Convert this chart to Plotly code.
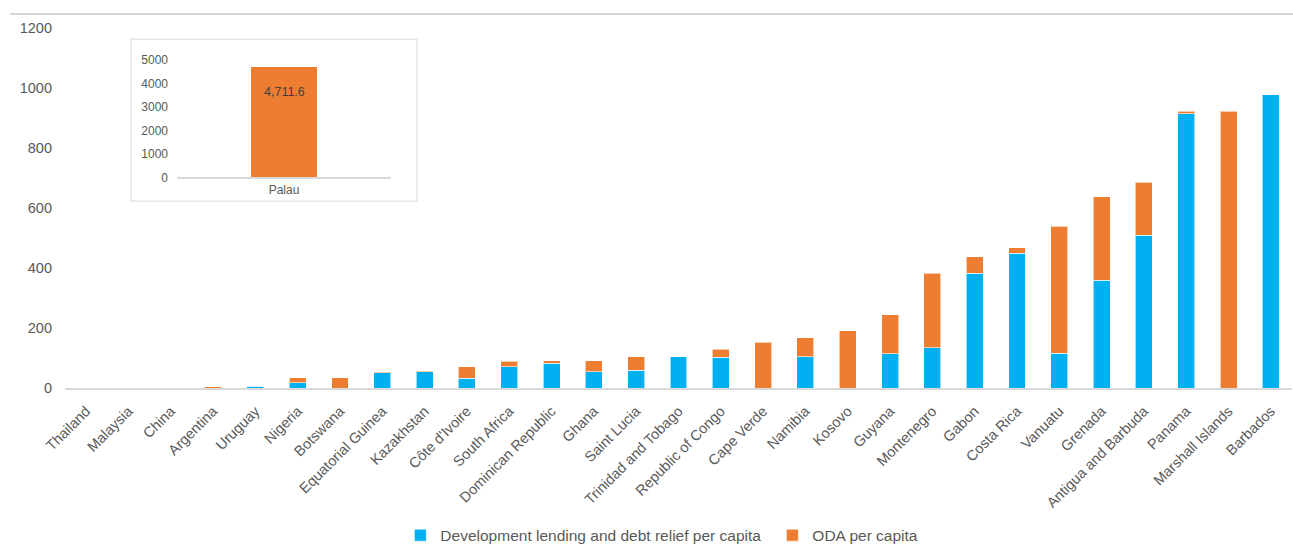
import plotly.graph_objects as go

countries = ["Thailand", "Malaysia", "China", "Argentina", "Uruguay", "Nigeria", "Botswana",
             "Equatorial Guinea", "Kazakhstan", "Côte d'Ivoire", "South Africa", "Dominican Republic",
             "Ghana", "Saint Lucia", "Trinidad and Tobago", "Republic of Congo", "Cape Verde",
             "Namibia", "Kosovo", "Guyana", "Montenegro", "Gabon", "Costa Rica", "Vanuatu",
             "Grenada", "Antigua and Barbuda", "Panama", "Marshall Islands", "Barbados"]
dev_lending = [0, 0, 0, 0, 6, 18, 0, 51, 54, 33, 71, 83, 55, 59, 105, 102, 0, 105, 0,
               115, 134, 382, 449, 116, 360, 510, 915, 0, 977]
oda = [0, 0, 0, 4, 0, 17, 35, 3, 3, 38, 18, 8, 36, 46, 0, 28, 152, 63, 191,
       129, 248, 56, 19, 423, 277, 176, 8, 923, 0]

inset_cat = ["Palau"]
inset_oda = [4711.6]

BLUE = "#00B0F0"
ORANGE = "#ED7D31"
TXT = "#595959"
FONT = "Liberation Sans"

fig = go.Figure()
fig.add_trace(go.Bar(x=countries, y=dev_lending, name="Development lending and debt relief per capita",
                     marker=dict(color=BLUE, line=dict(color="rgba(255,255,255,0.6)", width=1)),
                     width=0.4))
fig.add_trace(go.Bar(x=countries, y=oda, name="ODA per capita",
                     marker=dict(color=ORANGE, line=dict(color="rgba(255,255,255,0.6)", width=1)),
                     width=0.4))
fig.add_trace(go.Bar(x=inset_cat, y=inset_oda, xaxis="x2", yaxis="y2", showlegend=False,
                     marker=dict(color=ORANGE, line=dict(width=0)), width=0.31))

fig.update_layout(
    barmode="stack",
    width=1293, height=547,
    margin=dict(l=65, r=1, t=28, b=159, autoexpand=False),
    paper_bgcolor="white", plot_bgcolor="white",
    font=dict(family=FONT, color=TXT, size=14),
    bargap=0.6,
    xaxis=dict(domain=[0, 1], tickangle=-45, tickfont=dict(size=14.5, color=TXT), automargin=False,
               showline=True, linecolor="#D9D9D9", linewidth=2, ticks="", showgrid=False,
               ticklabelstandoff=7),
    yaxis=dict(range=[0, 1200], tickvals=[0, 200, 400, 600, 800, 1000, 1200], automargin=False,
               showgrid=False, zeroline=False, showline=False, ticks="",
               tickfont=dict(size=14.5, color=TXT), ticklabelstandoff=12),
    xaxis2=dict(domain=[0.0913, 0.2657], anchor="y2", showline=True, linecolor="#D9D9D9",
                linewidth=2, ticks="", tickfont=dict(size=12, color=TXT), showgrid=False,
                automargin=False),
    yaxis2=dict(domain=[0.585, 0.911], anchor="x2", range=[0, 5000], automargin=False,
                tickvals=[0, 1000, 2000, 3000, 4000, 5000], showgrid=False, zeroline=False,
                showline=False, ticks="", tickfont=dict(size=12, color=TXT), ticklabelstandoff=8),
    legend=dict(orientation="h", x=0.5765, xanchor="center", y=-0.41, yanchor="middle",
                font=dict(size=15.5, color=TXT), traceorder="normal", itemwidth=30,
                entrywidth=327),
    shapes=[
        dict(type="line", xref="paper", yref="paper", x0=-0.0448, x1=1.001, y0=1.0389, y1=1.0389,
             line=dict(color="#C8C8C8", width=1.5)),
        dict(type="rect", xref="paper", yref="paper", x0=0.0538, x1=0.2869, y0=0.519, y1=0.969,
             fillcolor="white", line=dict(color="#D9D9D9", width=1), layer="below"),
    ],
    annotations=[
        dict(x=inset_cat[0], y=inset_oda[0], xref="x2", yref="y2", text=f"{inset_oda[0]:,.1f}",
             showarrow=False, yshift=-25, font=dict(size=12.5, color="#404040")),
    ],
)

fig.write_html("out.html")
